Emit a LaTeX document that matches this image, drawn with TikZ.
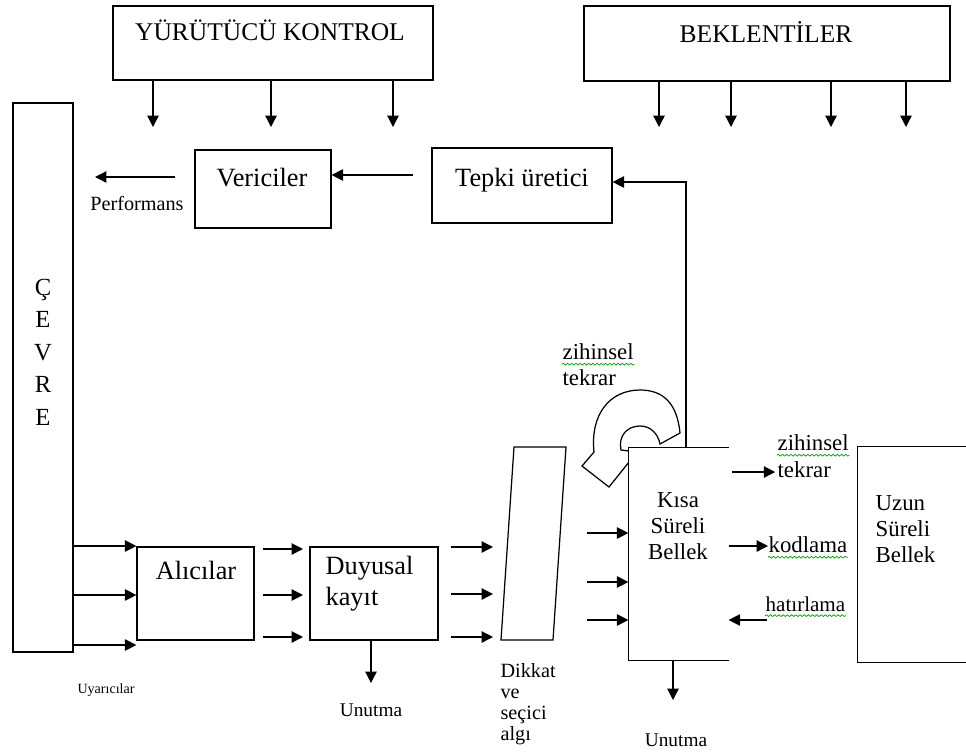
\documentclass[tikz,border=0pt]{standalone}
\usepackage{fontspec}
\setmainfont{Liberation Serif}
\usetikzlibrary{arrows.meta,positioning,decorations.pathmorphing}

\begin{document}
\begin{tikzpicture}[x=0.02cm, y=-0.02cm, line width=0.7pt,
  box/.style={draw, fill=white, inner sep=0pt},
  open/.style={fill=white, inner sep=0pt},
  big/.style={inner sep=0pt, font=\fontsize{14.5}{17}\selectfont},
  mid/.style={inner sep=0pt, font=\fontsize{13}{14.7}\selectfont},
  small/.style={inner sep=0pt, font=\fontsize{11.5}{12}\selectfont},
  flow/.style={-{Triangle[length=2.3mm,width=2.3mm]}},
  spell/.style={decorate, decoration={snake, amplitude=0.5pt, segment length=2.4pt}, draw=green!60!black, line width=0.4pt}]
\useasboundingbox (0,0) rectangle (966,751);

% top row
\node[box, minimum width=6.4cm, minimum height=1.48cm] (yk) at (273,43) {};
\node[big] (yktxt) at (270,30) {YÜRÜTÜCÜ KONTROL};
\node[box, minimum width=7.32cm, minimum height=1.5cm] (bek) at (767,43.5) {};
\node[big] (bektxt) at (766,32) {BEKLENTİLER};
\foreach \x in {153,271,393}
  \draw[flow] (yk.south -| \x,0) -- (\x,127);
\foreach \x in {659,731,831,906}
  \draw[flow] (bek.south -| \x,0) -- (\x,127);

% response side
\node[box, minimum width=1.2cm, minimum height=10.98cm] (cevre) at (43,377.5) {};
\node[big, align=center, font=\fontsize{14}{18.5}\selectfont] (cevretxt) at (43,352) {Ç\\E\\V\\R\\E};
\node[box, minimum width=2.72cm, minimum height=1.56cm] (ver) at (263,189) {};
\node[big, font=\fontsize{15}{17}\selectfont] (vertxt) at (262,178) {Vericiler};
\node[box, minimum width=3.6cm, minimum height=1.5cm] (tepki) at (522,185.5) {};
\node[big, font=\fontsize{15}{17}\selectfont] (tepkitxt) at (522,180) {Tepki üretici};
\node[small] (perf) at (137,203) {Performans};
\draw[flow] (175,177) -- (95,177);
\draw[flow] (413,175) -- (ver.east |- 0,175);

% input side
\node[box, minimum width=2.34cm, minimum height=1.86cm] (alici) at (195.5,593.5) {};
\node[big, font=\fontsize{15}{17}\selectfont] (alicitxt) at (196,570) {Alıcılar};
\node[box, minimum width=2.56cm, minimum height=1.86cm] (duy) at (374,593.5) {};
\node[big, font=\fontsize{15}{17.5}\selectfont, align=left, anchor=west] (duytxt) at (325,584) {Duyusal\\kayıt};
\node[font=\fontsize{8}{9}\selectfont, inner sep=0pt] (uyar) at (106,690) {Uyarıcılar};
\node[small, font=\fontsize{11}{12}\selectfont] (unut1) at (371,710) {Unutma};
\foreach \y in {546,595,645}
  \draw[flow] (cevre.east |- 0,\y) -- (alici.west |- 0,\y);
\foreach \y in {549,595,637}
  \draw[flow] (263,\y) -- (303,\y);
\foreach \y in {547,594,637}
  \draw[flow] (451,\y) -- (493,\y);
\draw[flow] (duy.south -| 371,0) -- (371,683);

% attention filter
\draw[fill=white] (514,447) -- (566,447) -- (553,640) -- (501,640) -- cycle;
\node[small, align=left, anchor=west] (dikkat) at (500,704) {Dikkat\\ve\\seçici\\algı};

% rehearsal loop
\node[mid, anchor=west] (zh1) at (562,352) {zihinsel};
\node[mid, anchor=west] (tk1) at (562,378) {tekrar};
\draw[spell] ([yshift=-2.5pt]zh1.base west) -- ([yshift=-2.5pt]zh1.base east);
\draw[fill=white] (680,433) .. controls (677,402) and (662,390) .. (640,390)
  .. controls (610,390) and (590,414) .. (594,452) -- (582,466) -- (609,487)
  -- (637,452) -- (621,450) .. controls (618,436) and (627,426) .. (640,426)
  .. controls (651,426) and (658,434) .. (660,444) -- cycle;

% short term memory
\node[open, minimum width=1.98cm, minimum height=4.24cm] (kisa) at (678.5,554) {};
\draw (kisa.north east) -- (kisa.north west) -- (kisa.south west) -- (kisa.south east);
\node[mid, align=center] (kisatxt) at (678,526) {Kısa\\Süreli\\Bellek};
\foreach \y in {533,582,620}
  \draw[flow] (587,\y) -- (kisa.west |- 0,\y);
\draw[flow] (kisa.north -| 686,0) |- (tepki.east |- 0,182);
\draw[flow] (kisa.south -| 673,0) -- (673,700);
\node[small, font=\fontsize{11}{12}\selectfont] (unut2) at (676,740) {Unutma};

% long term memory
\node[open, minimum width=2.16cm, minimum height=4.3cm] (uzun) at (912,554.5) {};
\draw (uzun.north east) -- (uzun.north west) -- (uzun.south west) -- (uzun.south east);
\node[mid, align=left, anchor=west] (uzuntxt) at (875,529) {Uzun\\Süreli\\Bellek};
\node[mid, anchor=west] (zh2) at (777,443) {zihinsel};
\node[mid, anchor=west] (tk2) at (777,470) {tekrar};
\node[mid, anchor=west] (kod) at (768,545) {kodlama};
\node[mid, font=\fontsize{12}{14}\selectfont, anchor=west] (hat) at (765,604) {hatırlama};
\draw[spell] ([yshift=-2.5pt]zh2.base west) -- ([yshift=-2.5pt]zh2.base east);
\draw[spell] ([yshift=-2.5pt]kod.base west) -- ([yshift=-2.5pt]kod.base east);
\draw[spell] ([yshift=-2.5pt]hat.base west) -- ([yshift=-2.5pt]hat.base east);
\draw[flow] (732,472) -- ([xshift=-1pt]tk2.west |- 0,472);
\draw[flow] (729,546) -- (kod.west |- 0,546);
\draw[flow] (767,620) -- (kisa.east |- 0,620);
\end{tikzpicture}
\end{document}
